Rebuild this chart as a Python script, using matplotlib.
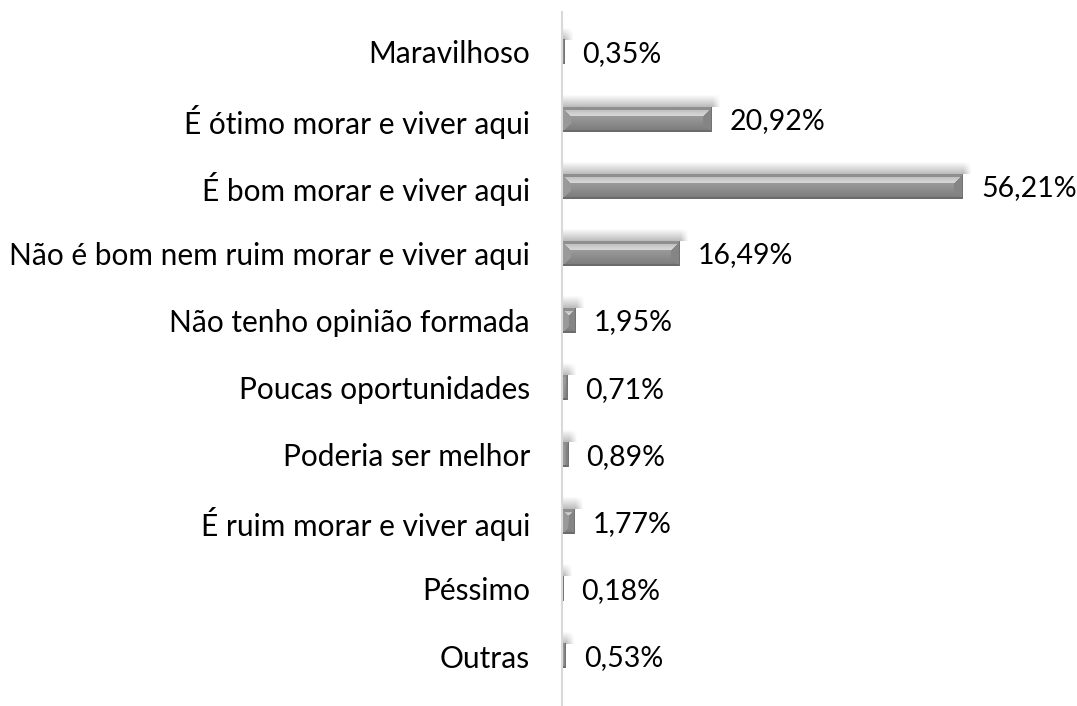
import numpy as np
import matplotlib
matplotlib.use("Agg")
import matplotlib.pyplot as plt
import matplotlib.transforms as mtrans

categories = [
    "Maravilhoso",
    "É ótimo morar e viver aqui",
    "É bom morar e viver aqui",
    "Não é bom nem ruim morar e viver aqui",
    "Não tenho opinião formada",
    "Poucas oportunidades",
    "Poderia ser melhor",
    "É ruim morar e viver aqui",
    "Péssimo",
    "Outras",
]
values = [0.35, 20.92, 56.21, 16.49, 1.95, 0.71, 0.89, 1.77, 0.18, 0.53]
value_labels = ["0,35%", "20,92%", "56,21%", "16,49%", "1,95%",
                "0,71%", "0,89%", "1,77%", "0,18%", "0,53%"]

plt.rcParams["font.family"] = ["Lato", "DejaVu Sans"]

W, H = 1077, 706
fig = plt.figure(figsize=(W / 100, H / 100), dpi=100)
ax_left, ax_top, ax_bottom = 562, 12, 706
ax = fig.add_axes([ax_left / W, 1 - ax_bottom / H, 1 - ax_left / W, (ax_bottom - ax_top) / H])

px_per_unit = 401 / 56.21
xmax = (W - ax_left) / px_per_unit
row_px = 67.1
bar_h = 0.37
H_px = int(round(bar_h * row_px))
y = np.arange(len(categories))


def bevel_image(w_px, h_px, b=9):
    # grey "bevel" look: light stripe on top facet, darker ends and bottom
    r = np.arange(h_px)[:, None] * np.ones((1, w_px))
    c = np.ones((h_px, 1)) * np.arange(w_px)[None, :]
    dt, db, dl, dr = r, h_px - 1 - r, c, w_px - 1 - c
    img = 0.68 - 0.2 * (r / max(h_px - 1, 1))
    b = min(b, max(w_px // 2, 1))
    top = (dt < b) & (dt <= dl) & (dt <= dr)
    right = (dr < b) & (dr < dt) & (dr <= db) & ~top
    left = (dl < b) & (dl < dt) & (dl <= db) & ~top & ~right
    img[top] = np.where(dt[top] < 3, 0.56, 0.76 + 0.1 * (dt[top] - 3) / max(b - 3, 1))
    img[right] = 0.52
    img[left] = 0.6
    img[-2:, :] = 0.42
    img[:, -1] = 0.45
    return img


bars = ax.barh(y, values, height=bar_h, color="none", edgecolor="none")
off = mtrans.ScaledTranslation(0.18, 0, fig.dpi_scale_trans)

for yi, v, lab in zip(y, values, value_labels):
    w_px = max(int(round(v * px_per_unit)), 2)
    # soft shadow above the bar
    sw = w_px + 8
    sh = np.zeros((12, sw, 4))
    alpha = np.linspace(0.0, 0.26, 12)[:, None] * np.ones((1, sw))
    fade = np.clip((sw - np.arange(sw)) / 8, 0, 1)[None, :]
    sh[..., 3] = alpha * fade
    ax.imshow(sh, extent=(0, v + 8 / px_per_unit, yi - bar_h / 2,
                          yi - bar_h / 2 - 12 / row_px),
              aspect="auto", interpolation="bilinear", zorder=1)
    ax.imshow(bevel_image(w_px, H_px), extent=(0, v, yi + bar_h / 2, yi - bar_h / 2),
              cmap="gray", vmin=0, vmax=1, aspect="auto",
              interpolation="bilinear", zorder=2)
    ax.text(v, yi + 0.03, lab, va="center", ha="left", fontsize=20.5,
            color="black", transform=ax.transData + off)

ax.set_xlim(0, xmax)
ax.set_ylim(9.745, -0.596)
ax.set_yticks(y)
ax.set_yticklabels(categories, fontsize=21.5)
ax.tick_params(axis="y", length=0, pad=23)
ax.set_xticks([])
for s in ["top", "right", "bottom"]:
    ax.spines[s].set_visible(False)
ax.spines["left"].set_color("#d9d9d9")
ax.spines["left"].set_linewidth(1.5)
ax.patch.set_alpha(0)

fig.savefig("out.png", dpi=100)
